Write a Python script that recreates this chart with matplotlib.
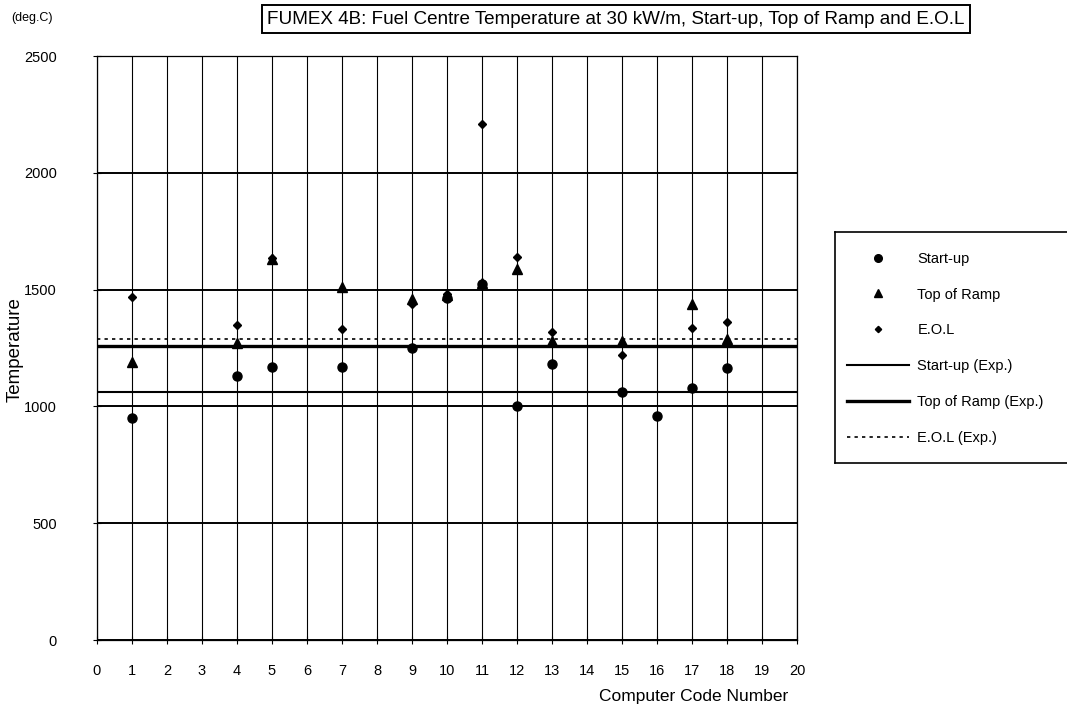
import numpy as np
import matplotlib
matplotlib.use("Agg")
import matplotlib.pyplot as plt
from matplotlib.lines import Line2D

plt.rcParams['font.family'] = ['Liberation Sans', 'DejaVu Sans']

# Computer code numbers that reported results
codes = [1, 4, 5, 7, 9, 10, 11, 12, 13, 15, 16, 17, 18]
nan = np.nan
# Predicted fuel centre temperatures (deg.C)
start_up = [950, 1130, 1170, 1170, 1250, 1465, 1525, 1000, 1180, 1060, 960, 1080, 1165]
top_of_ramp = [1190, 1270, 1630, 1510, 1460, 1475, 1530, 1590, 1280, 1280, nan, 1440, 1290]
eol = [1470, 1350, 1635, 1330, 1440, 1480, 2210, 1640, 1320, 1220, nan, 1335, 1360]

# Measured values
exp_start_up = 1060
exp_top_of_ramp = 1260
exp_eol = 1290

x_ticks = list(range(0, 21))
y_ticks = [0, 500, 1000, 1500, 2000, 2500]

W, H = 1067, 709
fig = plt.figure(figsize=(10.67, 7.09), dpi=100)
ax = fig.add_axes([0.0909, 0.0973, 0.656, 0.8237])

# grid
for yv in y_ticks:
    ax.axhline(yv, color='black', lw=1.4, zorder=1)
for xv in x_ticks:
    ax.axvline(xv, color='black', lw=0.8, zorder=1)

# experimental levels
ax.axhline(exp_start_up, color='black', lw=1.5, zorder=2)
ax.axhline(exp_top_of_ramp, color='black', lw=2.4, zorder=2)
ax.axhline(exp_eol, color='black', lw=1.2, ls=(0, (2, 2.5)), zorder=2)

ax.plot(codes, start_up, 'o', color='black', ms=6.5, ls='none', zorder=4)
ax.plot(codes, top_of_ramp, '^', color='black', ms=6.5, ls='none', zorder=4)
ax.plot(codes, eol, 'D', color='black', ms=3.8, ls='none', zorder=5)

ax.set_xlim(0, 20)
ax.set_ylim(0, 2500)
ax.set_xticks(x_ticks)
ax.set_yticks(y_ticks)
ax.tick_params(axis='both', direction='inout', length=6, width=0.8,
               labelsize=10.5, colors='black')
ax.tick_params(axis='x', pad=14)
ax.tick_params(axis='y', pad=26)
for s in ax.spines.values():
    s.set_linewidth(0.9)

fig.text(15 / W, 1 - 350 / H, 'Temperature', fontsize=13.5,
         rotation=90, ha='center', va='center')
fig.text(694 / W, 1 - 697 / H, 'Computer Code Number', fontsize=12.5,
         ha='center', va='center')

# boxed title
fig.text(616 / W, 1 - 19 / H,
         'FUMEX 4B: Fuel Centre Temperature at 30 kW/m, Start-up, Top of Ramp and E.O.L',
         fontsize=13.6, ha='center', va='center',
         bbox=dict(boxstyle='square,pad=0.3', fc='white', ec='black', lw=1.4))
fig.text(32 / W, 1 - 18 / H, '(deg.C)', fontsize=9, ha='center', va='center')

handles = [
    Line2D([], [], marker='o', color='black', ls='none', ms=5.5),
    Line2D([], [], marker='^', color='black', ls='none', ms=5.5),
    Line2D([], [], marker='D', color='black', ls='none', ms=3.2),
    Line2D([], [], color='black', lw=1.5),
    Line2D([], [], color='black', lw=2.4),
    Line2D([], [], color='black', lw=1.2, ls=(0, (2, 2.5))),
]
labels = ['Start-up', 'Top of Ramp', 'E.O.L', 'Start-up (Exp.)',
          'Top of Ramp (Exp.)', 'E.O.L (Exp.)']
leg = fig.legend(handles, labels, loc='upper left',
                 bbox_to_anchor=(835 / W, 1 - 240 / H),
                 frameon=False, fontsize=10.5,
                 handlelength=4.25, handletextpad=0.6, labelspacing=1.5,
                 borderpad=0.8, borderaxespad=0)

# legend frame running off the right edge of the figure
box_left, box_top, box_bottom = 835 / W, 1 - 232 / H, 1 - 463 / H
for xs, ys in [((box_left, 1.0), (box_top, box_top)),
               ((box_left, 1.0), (box_bottom, box_bottom)),
               ((box_left, box_left), (box_bottom, box_top))]:
    fig.add_artist(Line2D(xs, ys, transform=fig.transFigure,
                          color='black', lw=1.2))

fig.savefig('out.png', dpi=100)
